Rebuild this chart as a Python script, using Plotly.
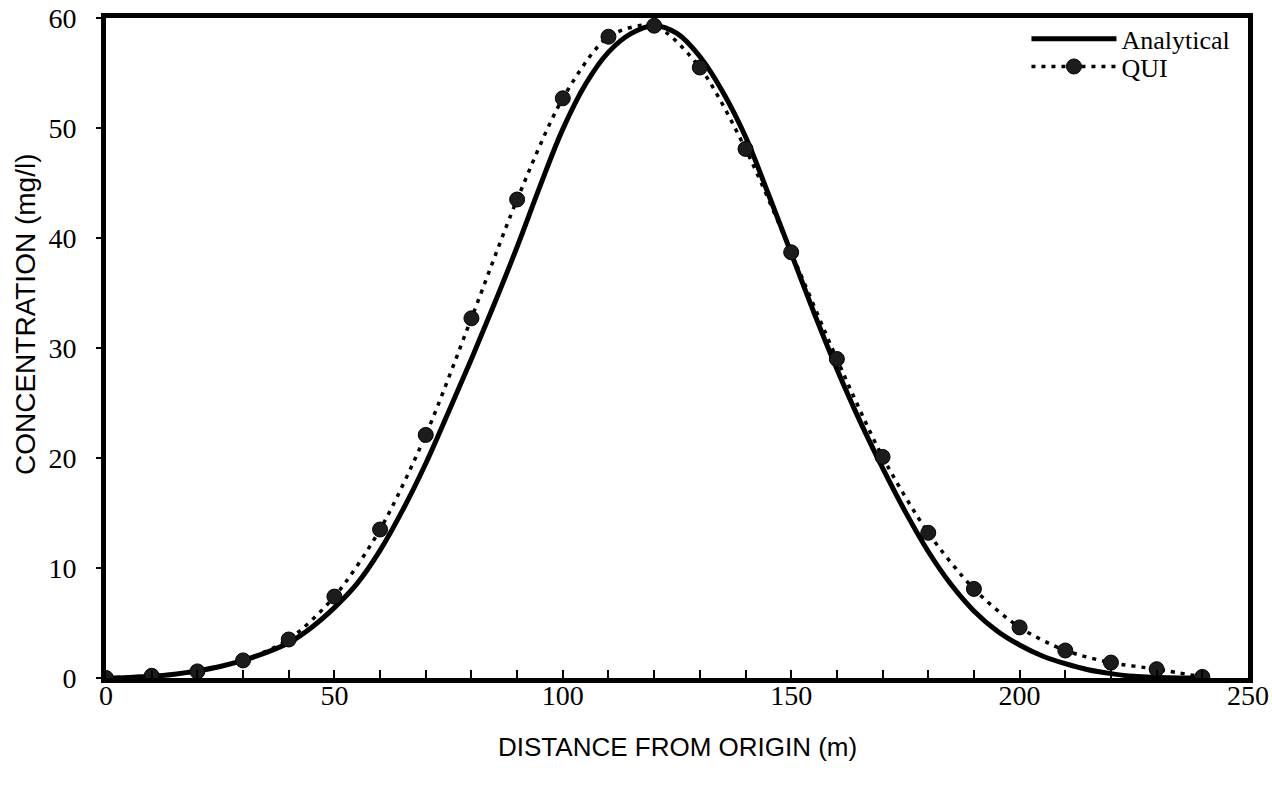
import plotly.graph_objects as go

# Distance from origin (m) for the model output points
qui_x = [0, 10, 20, 30, 40, 50, 60, 70, 80, 90, 100, 110, 120,
         130, 140, 150, 160, 170, 180, 190, 200, 210, 220, 230, 240]
# QUI concentration (mg/l)
qui_y = [0.0, 0.2, 0.6, 1.6, 3.5, 7.4, 13.5, 22.1, 32.7, 43.5, 52.7, 58.3, 59.3,
         55.5, 48.1, 38.7, 29.0, 20.1, 13.2, 8.1, 4.6, 2.5, 1.4, 0.8, 0.1]

# Analytical solution sampled every 5 m
ana_x = [0, 5, 10, 15, 20, 25, 30, 35, 40, 45, 50, 55, 60, 65, 70, 75, 80, 85,
         90, 95, 100, 105, 110, 115, 120, 125, 130, 135, 140, 145, 150, 155,
         160, 165, 170, 175, 180, 185, 190, 195, 200, 205, 210, 215, 220, 225,
         230, 235, 240]
ana_y = [0.0, 0.05, 0.15, 0.35, 0.65, 1.05, 1.6, 2.3, 3.2, 4.6, 6.4, 8.6, 11.6,
         15.3, 19.5, 24.2, 29.0, 34.0, 39.2, 44.7, 49.9, 54.0, 56.9, 58.6, 59.3,
         58.6, 56.5, 53.3, 49.2, 44.0, 38.6, 33.2, 28.1, 23.4, 19.1, 15.1, 11.5,
         8.5, 6.1, 4.3, 3.0, 2.0, 1.3, 0.75, 0.4, 0.15, 0.05, 0.0, 0.0]

x_ticks = [0, 50, 100, 150, 200, 250]
y_ticks = [0, 10, 20, 30, 40, 50, 60]

SERIF = "Liberation Serif, Times New Roman, serif"
SANS = "Liberation Sans, Arial, sans-serif"

fig = go.Figure()
fig.add_trace(go.Scatter(
    x=ana_x, y=ana_y, mode="lines", name="Analytical", legend="legend",
    line=dict(color="black", width=5, shape="spline", smoothing=1.0),
))
fig.add_trace(go.Scatter(
    x=qui_x, y=qui_y, mode="lines+markers", name="QUI", legend="legend2",
    line=dict(color="black", width=3.5, dash="4px,6px", shape="spline", smoothing=0.8),
    marker=dict(symbol="circle", size=15, color="#1c1c1c",
                line=dict(color="black", width=1)),
))

# Two stacked single-entry legends share the same left edge
legend_style = dict(
    x=0.806, xanchor="left", yanchor="top",
    bgcolor="rgba(0,0,0,0)", borderwidth=0,
    font=dict(family=SERIF, size=26, color="black"),
    itemwidth=85,
)

fig.update_layout(
    width=1272, height=788,
    margin=dict(l=106, r=24, t=18, b=110),
    paper_bgcolor="white", plot_bgcolor="white",
    showlegend=True,
    legend=dict(y=1.004, **legend_style),
    legend2=dict(y=0.962, **legend_style),
    annotations=[
        dict(text="CONCENTRATION (mg/l)", textangle=-90, showarrow=False,
             xref="paper", yref="paper", x=0, y=0.55, xshift=-80,
             xanchor="center", yanchor="middle",
             font=dict(family=SANS, size=28, color="black")),
        dict(text="DISTANCE FROM ORIGIN (m)", showarrow=False,
             xref="paper", yref="paper", x=0.5, y=0, yshift=-69,
             xanchor="center", yanchor="middle",
             font=dict(family=SANS, size=26, color="black")),
    ],
)

fig.update_xaxes(
    range=[0, 250], tickvals=x_ticks, ticktext=[str(v) for v in x_ticks],
    automargin=False, showgrid=False, zeroline=False,
    showline=True, linecolor="black", linewidth=5, mirror=True,
    ticks="inside", ticklen=8, tickwidth=2, tickcolor="black",
    minor=dict(dtick=10, tick0=0, ticks="inside", ticklen=8, tickwidth=2,
               tickcolor="black", showgrid=False),
    tickfont=dict(family=SERIF, size=28, color="black"),
    ticklabelstandoff=-12,
)
fig.update_yaxes(
    range=[0, 60], tickvals=y_ticks, ticktext=[str(v) for v in y_ticks],
    automargin=False, showgrid=False, zeroline=False,
    showline=True, linecolor="black", linewidth=5, mirror=True,
    ticks="outside", ticklen=5, tickwidth=1.5, tickcolor="black",
    tickfont=dict(family=SERIF, size=28, color="black"),
    ticklabelstandoff=14,
)

fig.write_html("out.html")
